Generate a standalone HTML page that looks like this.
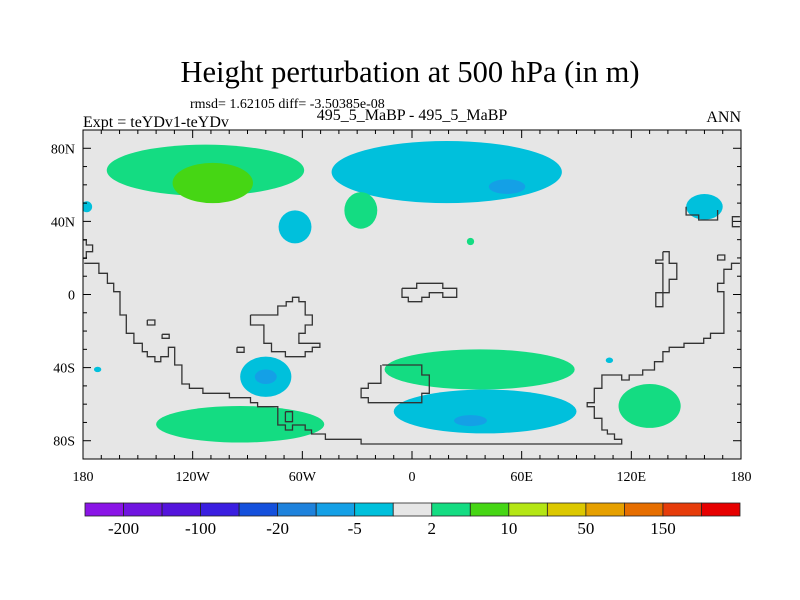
<!DOCTYPE html>
<html><head><meta charset="utf-8"><style>
body{margin:0;background:#fff;}
svg{display:block;font-family:"Liberation Serif",serif;}
</style></head><body>
<svg id="chart" width="800" height="600">
<text x="410" y="82" text-anchor="middle" font-size="30.5">Height perturbation at 500 hPa (in m)</text>
<text x="190" y="108" font-size="14">rmsd= 1.62105 diff= -3.50385e-08</text>
<text x="83" y="127" font-size="16">Expt = teYDv1-teYDv</text>
<text x="412" y="120" text-anchor="middle" font-size="16">495_5_MaBP - 495_5_MaBP</text>
<text x="741" y="122" text-anchor="end" font-size="16">ANN</text>
<defs><clipPath id="pc"><rect x="83" y="130" width="658" height="329"/></clipPath></defs>
<rect x="83" y="130" width="658" height="329" fill="#e6e6e6"/>
<g id="blobs" clip-path="url(#pc)"></g>
<g id="coast" fill="none" stroke="#333" stroke-width="1.3" clip-path="url(#pc)"></g>
<rect x="83" y="130" width="658" height="329" fill="none" stroke="#000" stroke-width="1"/>
<g id="axes"></g>
<g id="cbar"></g>
</svg>
<script>
const lonLabels=["180","120W","60W","0","60E","120E","180"];
const lonTicks=[-180,-120,-60,0,60,120,180];
const latLabels=["80N","40N","0","40S","80S"];
const latTicks=[80,40,0,-40,-80];
// blobs: center lon, lat, radius lon, radius lat, level index
const blobLon=[-113,-109,19,52,-64,-28,32,160,-178,-80,-80,37,40,32,-94,130,-172,108];
const blobLat=[68,61,67,59,37,46,29,48,48,-45,-45,-41,-64,-69,-71,-61,-41,-36];
const blobRx=[54,22,63,10,9,9,2,10,3,14,6,52,50,9,46,17,2,2];
const blobRy=[14,11,17,4,9,10,2,7,3,11,4,11,12,3,10,12,1.5,1.5];
const blobLvl=[9,10,7,6,7,9,9,7,7,7,6,9,7,6,9,9,7,7];
const cbColors=["#8a14e6","#7014e0","#5414dc","#3a1ee0","#1450dc","#1e82dc","#14a0e6","#00c0dc","#e6e6e6","#14dc82","#46d614","#b4e614","#dcc800","#e6a000","#e66e00","#e63c0a","#e60000"];
const cbLabels=["-200","-100","-20","-5","2","10","50","150"];
const NS="http://www.w3.org/2000/svg";
const X0=83,W=658,Y0=130,H=329;
function xs(lon){return X0+(lon+180)/360*W;}
function ys(lat){return Y0+(90-lat)/180*H;}
function mk(t,a,p){const e=document.createElementNS(NS,t);for(const k in a)e.setAttribute(k,a[k]);p.appendChild(e);return e;}
const bg=document.getElementById('blobs');
for(let i=0;i<blobLon.length;i++){
 const e=mk('ellipse',{cx:xs(blobLon[i]),cy:ys(blobLat[i]),rx:blobRx[i]/360*W,ry:blobRy[i]/180*H,fill:cbColors[blobLvl[i]]},bg);
 
 
}
function tz(a){let s='';for(let i=0;i<a.length;i+=2)s+=(i?'L':'M')+(80+a[i]/2.376).toFixed(1)+','+(230+a[i+1]/3).toFixed(1);return s;}
const coastPaths=[
[10,100,45,100,45,130,65,130,65,160,80,160,80,185,95,185,95,255,110,255,110,310,128,310,128,340,148,340,148,365,160,365,160,380,178,380,178,395,192,395,192,380,210,380,210,352,225,352,225,405,242,405,242,462,260,462,260,475,292,475,292,490,355,490,355,503,405,503,405,518,422,518,422,530,470,530,470,585,488,585,488,600,505,600,505,585,535,585,535,600,550,600,550,612,583,612,583,628,668,628,668,642,1287,642,1287,628,1270,628,1270,612,1253,612,1253,600,1240,600,1240,565,1222,565,1222,530,1205,530,1205,518,1222,518,1222,475,1240,475,1240,435,1287,435,1287,450,1305,450,1305,435,1337,435,1337,420,1365,420,1365,395,1385,395,1385,365,1400,365,1400,352,1435,352,1435,340,1482,340,1482,325,1498,325,1498,310,1530,310,1530,185,1515,185,1515,160,1530,160,1530,118,1548,118,1548,100,1568,100],
[718,405,812,405,812,435,830,435,830,490,812,490,812,518,685,518,685,503,668,503,668,475,685,475,685,460,715,460,715,405],
[405,255,470,255,470,228,490,228,490,215,505,215,505,202,520,202,520,215,535,215,535,255,552,255,552,285,535,285,535,310,520,310,520,340,570,340,570,352,552,352,552,365,535,365,535,380,488,380,488,365,455,365,455,340,437,340,437,285,405,285,405,255],
[765,175,800,175,800,160,862,160,862,175,895,175,895,202,862,202,862,188,830,188,830,202,812,202,812,215,780,215,780,202,765,202,765,175],
[1385,65,1400,65,1400,100,1418,100,1418,148,1400,148,1400,188,1385,188,1385,230,1368,230,1368,188,1385,188,1385,100,1368,100,1368,90,1385,90,1385,65],
[160,270,178,270,178,285,160,285,160,270],[195,313,212,313,212,325,195,325,195,313],[373,352,390,352,390,367,373,367,373,352],
[488,545,505,545,505,575,488,575,488,545],[1515,75,1532,75,1532,90,1515,90,1515,75],
[0,30,15,30,15,45,30,45,30,65,15,65,15,85,0,85],
[1440,-70,1440,-45,1470,-45,1470,-30,1515,-30,1515,-60],[1568,-40,1550,-40,1550,-10,1568,-10]
];
const cg=document.getElementById('coast');
coastPaths.forEach(p=>{const e=mk('path',{d:tz(p)},cg);
 
 });
const ax=document.getElementById('axes');
for(let l=-180;l<=180;l+=10){const big=l%60==0;const x=xs(l);
 mk('line',{x1:x,y1:Y0,x2:x,y2:Y0+(big?8:4),stroke:'#000'},ax);
 mk('line',{x1:x,y1:Y0+H,x2:x,y2:Y0+H-(big?8:4),stroke:'#000'},ax);}
for(let l=-90;l<=90;l+=10){const big=l%40==0;const y=ys(l);
 mk('line',{x1:X0,y1:y,x2:X0+(big?8:4),y2:y,stroke:'#000'},ax);
 mk('line',{x1:X0+W,y1:y,x2:X0+W-(big?8:4),y2:y,stroke:'#000'},ax);}
lonTicks.forEach((l,i)=>{const t=mk('text',{x:xs(l),y:481,'text-anchor':'middle','font-size':14},ax);t.textContent=lonLabels[i];
 });
latTicks.forEach((l,i)=>{const t=mk('text',{x:75,y:ys(l)+5,'text-anchor':'end','font-size':14},ax);t.textContent=latLabels[i];
 });
const cb=document.getElementById('cbar');const cx0=85,cw=655/cbColors.length;
cbColors.forEach((c,i)=>{const r=mk('rect',{x:cx0+i*cw,y:503,width:cw,height:13,fill:c,stroke:'#222','stroke-width':0.8},cb);
 });
cbLabels.forEach((s,i)=>{const t=mk('text',{x:cx0+(2*i+1)*cw,y:534,'text-anchor':'middle','font-size':17},cb);t.textContent=s;
 });
</script>
</body></html>
